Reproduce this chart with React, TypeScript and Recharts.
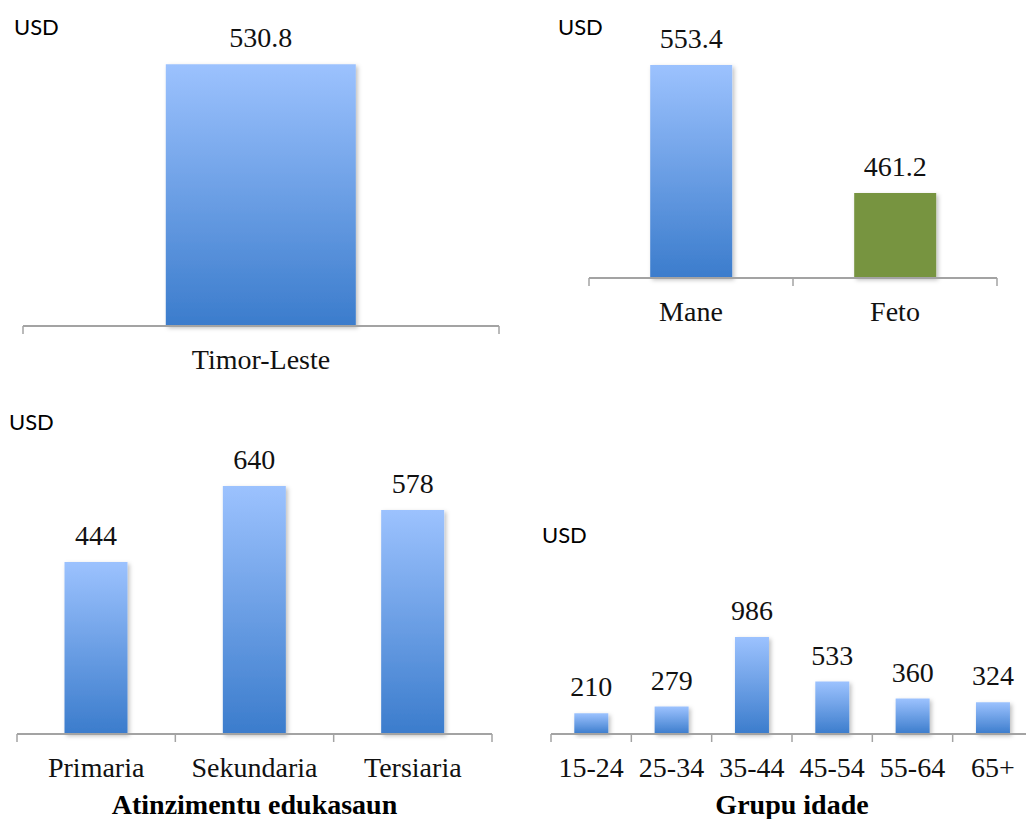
import { Bar, BarChart, Cell, LabelList, XAxis, YAxis } from "recharts";

const nationalCategories = ["Timor-Leste"];
const nationalValues = [530.8];

const sexCategories = ["Mane", "Feto"];
const sexValues = [553.4, 461.2];

const eduCategories = ["Primaria", "Sekundaria", "Tersiaria"];
const eduValues = [444, 640, 578];

const ageCategories = ["15-24", "25-34", "35-44", "45-54", "55-64", "65+"];
const ageValues = [210, 279, 986, 533, 360, 324];

const SERIF = "'Liberation Serif', 'Times New Roman', serif";
const SANS = "Lato, 'Liberation Sans', Arial, sans-serif";
const AXIS = "#a3a3a3";
const GREEN = "#779440";
const TICK_GAP = 23;

type Panel = {
  id: string;
  categories: string[];
  values: number[];
  colors?: (string | null)[];
  left: number;
  top: number;
  width: number;
  height: number;
  margin: { top: number; right: number; left: number; bottom: number };
  domain: [number, number];
  axisHeight: number;
  gap: string;
  title?: string;
};

function makeTick(count: number, band: number) {
  return function Tick(props: any) {
    const { x, y, payload, index } = props;
    const axisY = y - TICK_GAP;
    return (
      <g>
        <line x1={x - band / 2} x2={x - band / 2} y1={axisY} y2={axisY + 8} stroke={AXIS} strokeWidth={1.5} />
        {index === count - 1 && (
          <line x1={x + band / 2} x2={x + band / 2} y1={axisY} y2={axisY + 8} stroke={AXIS} strokeWidth={1.5} />
        )}
        <text x={x} y={y} dy="0.71em" textAnchor="middle" fontFamily={SERIF} fontSize={28} fill="#111">
          {payload.value}
        </text>
      </g>
    );
  };
}

function PanelChart({ p }: { p: Panel }) {
  const data = p.categories.map((name, i) => ({ name, value: p.values[i] }));
  const plotWidth = p.width - p.margin.left - p.margin.right;
  const band = plotWidth / p.categories.length;
  return (
    <div style={{ position: "absolute", left: p.left, top: p.top }}>
      <BarChart width={p.width} height={p.height} data={data} margin={p.margin} barCategoryGap={p.gap}>
        <defs>
          <linearGradient id={`grad-${p.id}`} x1="0" y1="0" x2="0" y2="1">
            <stop offset="0%" stopColor="#9cc2fe" />
            <stop offset="100%" stopColor="#3b7ccc" />
          </linearGradient>
          <filter id={`shadow-${p.id}`} x="-10%" y="-10%" width="130%" height="130%">
            <feDropShadow dx="2" dy="2" stdDeviation="2" floodColor="#000" floodOpacity="0.25" />
          </filter>
        </defs>
        <YAxis hide domain={p.domain} />
        <XAxis
          dataKey="name"
          height={p.axisHeight}
          axisLine={{ stroke: AXIS, strokeWidth: 2 }}
          tickLine={false}
          tickSize={0}
          tickMargin={TICK_GAP}
          interval={0}
          tick={makeTick(p.categories.length, band)}
          label={
            p.title
              ? {
                  value: p.title,
                  position: "insideBottom",
                  offset: 5,
                  fill: "#000",
                  fontSize: 28,
                  fontWeight: "bold",
                  fontFamily: SERIF,
                }
              : undefined
          }
        />
        <Bar dataKey="value" isAnimationActive={false} filter={`url(#shadow-${p.id})`}>
          {data.map((d, i) => (
            <Cell key={d.name} fill={p.colors && p.colors[i] ? (p.colors[i] as string) : `url(#grad-${p.id})`} />
          ))}
          <LabelList dataKey="value" position="top" offset={17} fill="#111" fontFamily={SERIF} fontSize={28} />
        </Bar>
      </BarChart>
    </div>
  );
}

const panels: Panel[] = [
  {
    id: "tl",
    categories: nationalCategories,
    values: nationalValues,
    left: 0,
    top: 0,
    width: 520,
    height: 400,
    margin: { top: 30, right: 21, left: 23, bottom: 0 },
    domain: [0, 600],
    axisHeight: 74,
    gap: "30%",
  },
  {
    id: "sex",
    categories: sexCategories,
    values: sexValues,
    colors: [null, GREEN],
    left: 540,
    top: 0,
    width: 486,
    height: 340,
    margin: { top: 35, right: 29, left: 49, bottom: 0 },
    domain: [400, 575],
    axisHeight: 62,
    gap: "30%",
  },
  {
    id: "edu",
    categories: eduCategories,
    values: eduValues,
    left: 0,
    top: 400,
    width: 520,
    height: 419,
    margin: { top: 24, right: 28, left: 17, bottom: 0 },
    domain: [0, 800],
    axisHeight: 85,
    gap: "30%",
    title: "Atinzimentu edukasaun",
  },
  {
    id: "age",
    categories: ageCategories,
    values: ageValues,
    left: 520,
    top: 520,
    width: 520,
    height: 299,
    margin: { top: 96, right: 7, left: 31, bottom: 0 },
    domain: [0, 1200],
    axisHeight: 85,
    gap: "29%",
    title: "Grupu idade",
  },
];

const unitLabels = [
  { x: 14, y: 35 },
  { x: 558, y: 35 },
  { x: 9, y: 430 },
  { x: 542, y: 543 },
];

export default function App() {
  return (
    <div
      style={{
        position: "absolute",
        left: 0,
        top: 0,
        width: 1026,
        height: 819,
        overflow: "hidden",
        background: "#fff",
      }}
    >
      {panels.map((p) => (
        <PanelChart key={p.id} p={p} />
      ))}
      <svg width={1026} height={819} style={{ position: "absolute", left: 0, top: 0, pointerEvents: "none" }}>
        {unitLabels.map((u, i) => (
          <text key={i} x={u.x} y={u.y} fontFamily={SANS} fontSize={22} fill="#000">
            USD
          </text>
        ))}
      </svg>
    </div>
  );
}
